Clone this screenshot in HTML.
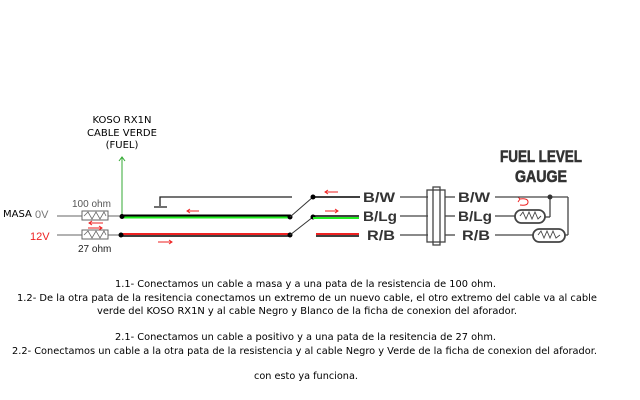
<!DOCTYPE html>
<html><head><meta charset="utf-8"><style>
html,body{margin:0;padding:0;background:#fff;}
svg{display:block;}
.t{font-family:"DejaVu Sans",sans-serif;font-size:10px;fill:#000;}
.lb{font-family:"Liberation Sans",sans-serif;font-weight:bold;font-size:14px;fill:#333;}
</style></head><body>
<svg width="640" height="400" viewBox="0 0 640 400" xmlns="http://www.w3.org/2000/svg">
<text class="t" x="122" y="123" text-anchor="middle" font-size="9">KOSO RX1N</text>
<text class="t" x="122" y="136" text-anchor="middle" font-size="9">CABLE VERDE</text>
<text class="t" x="122" y="148" text-anchor="middle" font-size="9">(FUEL)</text>
<line x1="122" y1="157" x2="122" y2="217" stroke="#3a3" stroke-width="1"/>
<path d="M119,161 L122,157 L125,161" fill="none" stroke="#3a3"/>
<polyline points="292,197 160,197 160,206" fill="none" stroke="#222" stroke-width="1.3"/>
<line x1="154" y1="207" x2="167" y2="207" stroke="#222" stroke-width="1.3"/>
<text class="t" x="3" y="217" font-size="9.5">MASA</text>
<text x="35" y="218" font-family="Liberation Sans,sans-serif" font-size="11" fill="#777">0V</text>
<text x="30" y="240" font-family="Liberation Sans,sans-serif" font-size="11" fill="#e22">12V</text>
<text x="72" y="207" font-family="Liberation Sans,sans-serif" font-size="10" fill="#555">100 ohm</text>
<text x="78" y="252" font-family="Liberation Sans,sans-serif" font-size="10" fill="#222">27 ohm</text>
<line x1="57" y1="216" x2="82" y2="216" stroke="#666"/>
<rect x="82" y="211" width="26" height="9" fill="#fff" stroke="#666"/>
<polyline points="84,216 88,212 92,219 96,212 100,219 104,212 106,216" fill="none" stroke="#666" stroke-width="0.8"/>
<line x1="108" y1="216" x2="122" y2="216" stroke="#666"/>
<line x1="57" y1="235" x2="82" y2="235" stroke="#666"/>
<rect x="82" y="230" width="26" height="9" fill="#fff" stroke="#666"/>
<polyline points="84,235 88,231 92,238 96,231 100,238 104,231 106,235" fill="none" stroke="#666" stroke-width="0.8"/>
<line x1="108" y1="235" x2="121" y2="235" stroke="#666"/>
<line x1="122" y1="216" x2="290" y2="216" stroke="#000" stroke-width="3"/>
<line x1="122" y1="217.5" x2="290" y2="217.5" stroke="#2e2" stroke-width="2"/>
<line x1="121" y1="234" x2="290" y2="234" stroke="#e22" stroke-width="2"/>
<line x1="121" y1="236" x2="290" y2="236" stroke="#000" stroke-width="1.5"/>
<circle cx="122" cy="216.5" r="2.5"/><circle cx="121" cy="235" r="2.5"/>
<circle cx="290" cy="217" r="2.5"/><circle cx="290" cy="235" r="2.5"/>
<line x1="290" y1="217" x2="313" y2="197" stroke="#333"/>
<line x1="290" y1="235" x2="313" y2="217" stroke="#333"/>
<circle cx="313" cy="197" r="2.5"/><circle cx="313" cy="217" r="2.5"/>
<line x1="313" y1="197" x2="360" y2="197" stroke="#000" stroke-width="1.5"/>
<line x1="313" y1="216" x2="359" y2="216" stroke="#000" stroke-width="1.5"/>
<line x1="313" y1="218" x2="359" y2="218" stroke="#2e2" stroke-width="2"/>
<line x1="316" y1="234" x2="359" y2="234" stroke="#e22" stroke-width="2"/>
<line x1="316" y1="236" x2="359" y2="236" stroke="#000" stroke-width="1.5"/>
<g stroke="#e22" stroke-width="1" fill="none">
<line x1="199" y1="211" x2="187" y2="211"/><path d="M190,209 L187,211 L190,213"/>
<line x1="103" y1="223" x2="89" y2="223"/><path d="M92,221 L89,223 L92,225"/>
<line x1="88" y1="228" x2="102" y2="228"/><path d="M99,226 L102,228 L99,230"/>
<line x1="158" y1="242" x2="172" y2="242"/><path d="M169,240 L172,242 L169,244"/>
<line x1="338" y1="192" x2="325" y2="192"/><path d="M328,190 L325,192 L328,194"/>
<line x1="325" y1="211" x2="338" y2="211"/><path d="M335,209 L338,211 L335,213"/>
<path d="M520,199 Q528,198 528,202 Q528,206 520,205"/><path d="M518,197 L520,199 L518,202"/>
</g>
<text class="lb" x="363" y="202" textLength="32" lengthAdjust="spacingAndGlyphs">B/W</text>
<text class="lb" x="363" y="221" textLength="34" lengthAdjust="spacingAndGlyphs">B/Lg</text>
<text class="lb" x="367" y="240" textLength="28" lengthAdjust="spacingAndGlyphs">R/B</text>
<text class="lb" x="458" y="202" textLength="32" lengthAdjust="spacingAndGlyphs">B/W</text>
<text class="lb" x="458" y="221" textLength="34" lengthAdjust="spacingAndGlyphs">B/Lg</text>
<text class="lb" x="462" y="240" textLength="28" lengthAdjust="spacingAndGlyphs">R/B</text>
<g stroke="#444" stroke-width="1.3" fill="none">
<line x1="400" y1="197" x2="428" y2="197"/><line x1="400" y1="216" x2="428" y2="216"/><line x1="400" y1="235" x2="428" y2="235"/>
<line x1="445" y1="197" x2="455" y2="197"/><line x1="445" y1="216" x2="455" y2="216"/><line x1="445" y1="235" x2="455" y2="235"/>
<rect x="427" y="190" width="18" height="52"/>
<rect x="433" y="187" width="7" height="58"/>
<line x1="495" y1="197" x2="568" y2="197"/><line x1="568" y1="197" x2="568" y2="235"/><line x1="568" y1="235" x2="565" y2="235"/>
<line x1="550" y1="197" x2="550" y2="217"/><line x1="550" y1="217" x2="545" y2="217"/>
<line x1="495" y1="216" x2="515" y2="216"/><line x1="495" y1="235" x2="533" y2="235"/>
<rect x="515" y="210" width="30" height="13" rx="6.5" stroke-width="1.8"/>
<rect x="533" y="229" width="32" height="13" rx="6.5" stroke-width="1.8"/>
<polyline points="520,216 523,212 526,219 529,212 532,219 535,212 538,219 541,216" stroke-width="0.9"/>
<polyline points="538,235 541,231 544,238 547,231 550,238 553,231 556,238 560,235" stroke-width="0.9"/>
</g>
<circle cx="550" cy="197" r="2.5" fill="#333"/>
<text x="541" y="162" text-anchor="middle" font-family="Liberation Sans,sans-serif" font-weight="bold" font-size="17" fill="#333" stroke="#333" stroke-width="0.6" textLength="82" lengthAdjust="spacingAndGlyphs">FUEL LEVEL</text>
<text x="541" y="182" text-anchor="middle" font-family="Liberation Sans,sans-serif" font-weight="bold" font-size="17" fill="#333" stroke="#333" stroke-width="0.6" textLength="52" lengthAdjust="spacingAndGlyphs">GAUGE</text>
<text class="t" x="115" y="287" textLength="381" lengthAdjust="spacingAndGlyphs">1.1- Conectamos un cable a masa y a una pata de la resistencia de 100 ohm.</text>
<text class="t" x="17" y="301" textLength="580" lengthAdjust="spacingAndGlyphs">1.2- De la otra pata de la resitencia conectamos un extremo de un nuevo cable, el otro extremo del cable va al cable</text>
<text class="t" x="97" y="314" textLength="420" lengthAdjust="spacingAndGlyphs">verde del KOSO RX1N y al cable Negro y Blanco de la ficha de conexion del aforador.</text>
<text class="t" x="115" y="340" textLength="381" lengthAdjust="spacingAndGlyphs">2.1- Conectamos un cable a positivo y a una pata de la resitencia de 27 ohm.</text>
<text class="t" x="12" y="354" textLength="585" lengthAdjust="spacingAndGlyphs">2.2- Conectamos un cable a la otra pata de la resistencia y al cable Negro y Verde de la ficha de conexion del aforador.</text>
<text class="t" x="254" y="379" textLength="104" lengthAdjust="spacingAndGlyphs">con esto ya funciona.</text>
</svg>
</body></html>
